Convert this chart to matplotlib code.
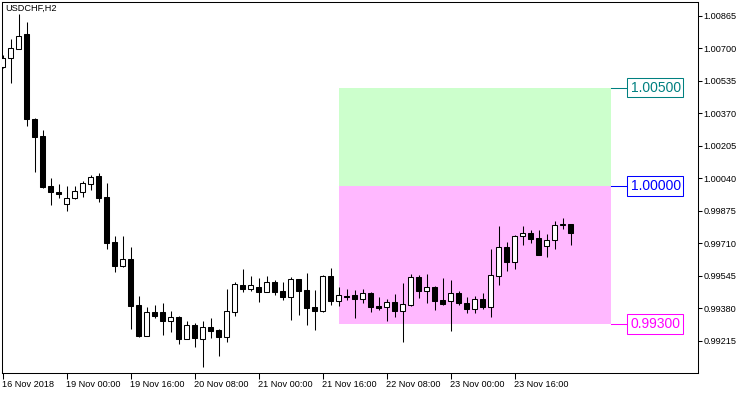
import numpy as np
import matplotlib
matplotlib.use("Agg")
import matplotlib.pyplot as plt
from matplotlib.patches import Rectangle

plt.rcParams['font.family'] = ['Liberation Sans', 'DejaVu Sans']

# ---- data (USDCHF, H2) ----
opens = [1.00605, 1.00651, 1.00696, 1.00771, 1.00342, 1.00255, 1.00001, 0.99972, 0.99908, 0.99938,
         0.99969, 1.00009, 1.00051, 0.99945, 0.99716, 0.99596, 0.99630, 0.99397, 0.99241, 0.99359,
         0.99359, 0.99317, 0.99336, 0.99225, 0.99295, 0.99225, 0.99283, 0.99270, 0.99236, 0.99363,
         0.99498, 0.99479, 0.99486, 0.99464, 0.99512, 0.99468, 0.99436, 0.99527, 0.99473, 0.99385,
         0.99368, 0.99544, 0.99418, 0.99440, 0.99446, 0.99429, 0.99456, 0.99390, 0.99385, 0.99412,
         0.99368, 0.99398, 0.99537, 0.99469, 0.99488, 0.99420, 0.99418, 0.99456, 0.99405, 0.99375,
         0.99425, 0.99385, 0.99545, 0.99689, 0.99613, 0.99745, 0.99762, 0.99735, 0.99698, 0.99725,
         0.99805, 0.99808]
highs = [1.00666, 1.00747, 1.00874, 1.00833, 1.00345, 1.00285, 1.00040, 1.00011, 1.00001, 1.00001,
         1.00026, 1.00057, 1.00068, 1.00017, 0.99747, 0.99747, 0.99689, 0.99442, 0.99386, 0.99397,
         0.99407, 0.99366, 0.99341, 0.99315, 0.99304, 0.99315, 0.99331, 0.99273, 0.99478, 0.99513,
         0.99579, 0.99544, 0.99532, 0.99544, 0.99522, 0.99512, 0.99537, 0.99530, 0.99559, 0.99473,
         0.99550, 0.99584, 0.99486, 0.99476, 0.99471, 0.99476, 0.99461, 0.99436, 0.99425, 0.99451,
         0.99507, 0.99554, 0.99549, 0.99554, 0.99493, 0.99534, 0.99522, 0.99468, 0.99436, 0.99441,
         0.99456, 0.99679, 0.99798, 0.99715, 0.99753, 0.99798, 0.99777, 0.99777, 0.99757, 0.99823,
         0.99838, 0.99810]
lows = [1.00600, 1.00524, 1.00694, 1.00307, 1.00073, 0.99989, 0.99904, 0.99941, 0.99875, 0.99936,
        0.99946, 0.99980, 0.99921, 0.99682, 0.99566, 0.99588, 0.99273, 0.99236, 0.99239, 0.99331,
        0.99246, 0.99261, 0.99200, 0.99225, 0.99183, 0.99083, 0.99231, 0.99138, 0.99209, 0.99341,
        0.99464, 0.99469, 0.99413, 0.99464, 0.99449, 0.99422, 0.99320, 0.99346, 0.99295, 0.99270,
        0.99359, 0.99397, 0.99393, 0.99422, 0.99332, 0.99405, 0.99363, 0.99373, 0.99317, 0.99337,
        0.99210, 0.99393, 0.99434, 0.99408, 0.99373, 0.99395, 0.99266, 0.99398, 0.99354, 0.99354,
        0.99375, 0.99337, 0.99498, 0.99571, 0.99579, 0.99701, 0.99713, 0.99650, 0.99642, 0.99681,
        0.99782, 0.99701]
closes = [1.00649, 1.00701, 1.00762, 1.00339, 1.00251, 0.99997, 0.99969, 0.99959, 0.99938, 0.99975,
          1.00014, 1.00048, 0.99941, 0.99713, 0.99596, 0.99629, 0.99393, 0.99239, 0.99359, 0.99342,
          0.99317, 0.99334, 0.99225, 0.99293, 0.99231, 0.99283, 0.99266, 0.99236, 0.99366, 0.99502,
          0.99479, 0.99496, 0.99464, 0.99512, 0.99464, 0.99436, 0.99527, 0.99469, 0.99383, 0.99368,
          0.99545, 0.99418, 0.99446, 0.99438, 0.99429, 0.99456, 0.99388, 0.99383, 0.99412, 0.99368,
          0.99400, 0.99537, 0.99469, 0.99486, 0.99418, 0.99400, 0.99456, 0.99405, 0.99375, 0.99425,
          0.99385, 0.99547, 0.99689, 0.99616, 0.99747, 0.99761, 0.99732, 0.99652, 0.99727, 0.99803,
          0.99808, 0.99764]

y_ticks = [1.00865, 1.00700, 1.00535, 1.00370, 1.00205, 1.00040,
           0.99875, 0.99710, 0.99545, 0.99380, 0.99215]
x_tick_pos = [0, 8, 16, 24, 32, 40, 48, 56, 64]
x_tick_labels = ["16 Nov 2018", "19 Nov 00:00", "19 Nov 16:00", "20 Nov 08:00",
                 "21 Nov 00:00", "21 Nov 16:00", "22 Nov 08:00", "23 Nov 00:00",
                 "23 Nov 16:00"]

levels = [1.00500, 1.00000, 0.99300]
level_labels = ["1.00500", "1.00000", "0.99300"]
level_colors = ["#008080", "#0000FF", "#FF00FF"]
zone_start, zone_end = 42, 76

title = "USDCHF,H2"

# ---- figure ----
W, H = 750, 394
fig = plt.figure(figsize=(W / 100, H / 100), dpi=100)
fig.patch.set_facecolor("white")
L, R, T, B = 2, 697.5, 2, 372.7
ax = fig.add_axes([L / W, (H - B) / H, (R - L) / W, (B - T) / H])
ax.set_facecolor("white")

ax.set_xlim(-0.0625, 86.875)
ax.set_ylim(0.99053, 1.00935)

# zones
ax.add_patch(Rectangle((zone_start, levels[1]), zone_end - zone_start, levels[0] - levels[1],
                       facecolor="#CCFFCC", edgecolor="none", zorder=0))
ax.add_patch(Rectangle((zone_start, levels[2]), zone_end - zone_start, levels[1] - levels[2],
                       facecolor="#FFB8FF", edgecolor="none", zorder=0))

# candles
o = np.array(opens); h = np.array(highs); l = np.array(lows); c = np.array(closes)
idx = np.arange(len(o))
lw = 0.75
ax.vlines(idx, l, h, color="black", linewidth=lw, zorder=2)
bottoms = np.minimum(o, c)
heights = np.maximum(np.abs(c - o), 1e-6)
fills = ["white" if cc >= oo else "black" for oo, cc in zip(o, c)]
ax.bar(idx, heights, bottom=bottoms, width=0.55, color=fills, edgecolor="black",
       linewidth=lw, zorder=3)

# level labels
px_per_price = (B - T) / (1.00935 - 0.99053)
half_box = 9.8 / px_per_price
box_x0 = (626.7 - 2.5) / 8
box_x1 = (683.3 - 2.5) / 8
for lvl, lab, col in zip(levels, level_labels, level_colors):
    ax.plot([zone_end, box_x0], [lvl, lvl], color=col, linewidth=lw, zorder=4)
    ax.add_patch(Rectangle((box_x0, lvl - half_box), box_x1 - box_x0, 2 * half_box,
                           facecolor="white", edgecolor=col, linewidth=lw, zorder=5))
    ax.text((box_x0 + box_x1) / 2 + 0.1, lvl, lab, color=col, fontsize=10,
            ha="center", va="center", zorder=6)

# title
ax.text(0.0053, 0.995, title, transform=ax.transAxes, fontsize=6.6,
        ha="left", va="top", color="black")

# axes styling
for s in ax.spines.values():
    s.set_color("black")
    s.set_linewidth(lw)
ax.yaxis.tick_right()
ax.set_yticks(y_ticks)
ax.set_yticklabels([f"{v:.5f}" for v in y_ticks])
ax.tick_params(axis="y", direction="out", length=3, width=lw, pad=1.5, labelsize=6.6)
ax.set_xticks(x_tick_pos)
ax.set_xticklabels(x_tick_labels)
for t in ax.get_xticklabels():
    t.set_horizontalalignment("left")
ax.tick_params(axis="x", direction="out", length=4, width=lw, pad=1.5, labelsize=6.6)

fig.savefig("out.png", dpi=100, facecolor="white")
